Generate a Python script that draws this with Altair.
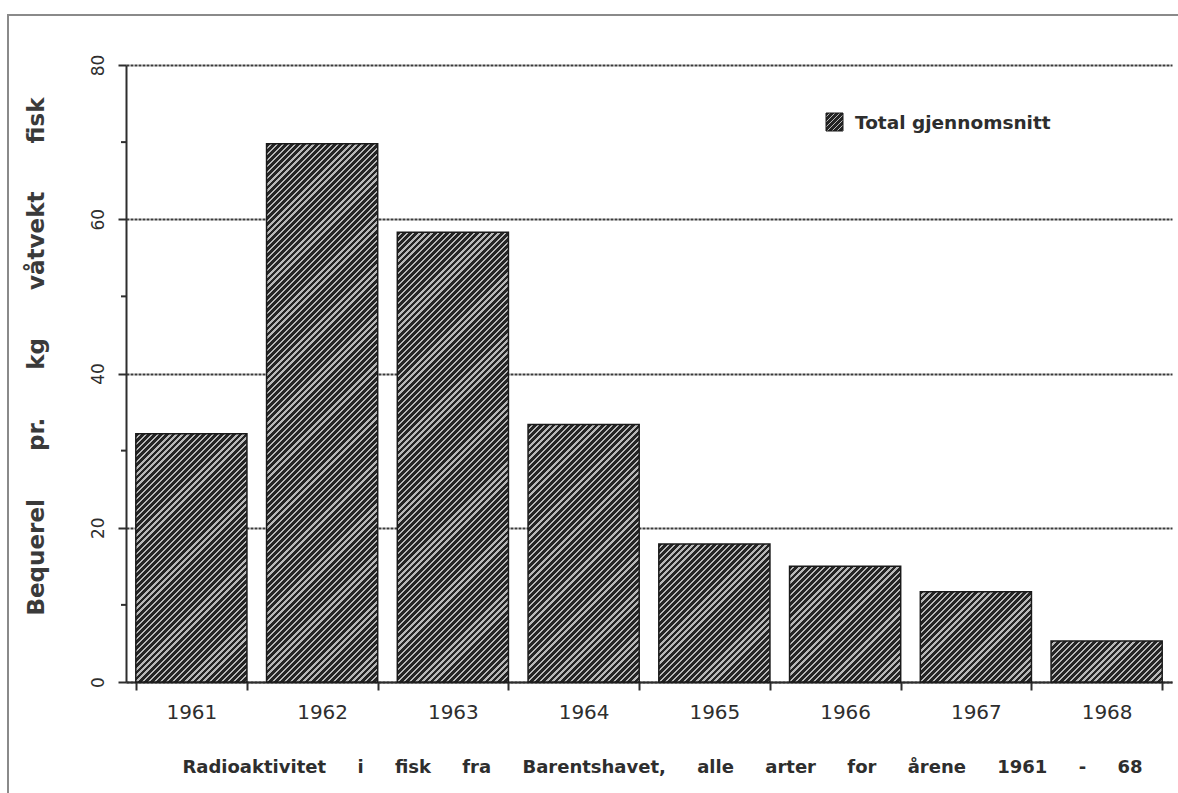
import altair as alt
import pandas as pd

# Mean radioactivity per year (Bq per kg wet weight)
years = ["1961", "1962", "1963", "1964", "1965", "1966", "1967", "1968"]
values = [32.2, 69.8, 58.3, 33.4, 17.9, 15.0, 11.7, 5.3]
y_ticks = [0, 20, 40, 60, 80]
minor_ticks = [10, 30, 50, 70]
legend_label = ["Total gjennomsnitt"]

NB = "\u00a0"
y_title = (NB * 6).join(["Bequerel", "pr.", "kg", "våtvekt", "fisk"])
x_title = (NB * 5).join(
    ["Radioaktivitet", "i", "fisk", "fra", "Barentshavet,", "alle", "arter",
     "for", "årene", "1961", "-", "68"]
)

W, H = 1046, 617
Y_MAX = 80
PAD_INNER = 0.15
STEP = W / len(years)
BAR_W = STEP * (1 - PAD_INNER)
INK = "#2e2e2e"
FONT = "DejaVu Sans"


def hatch(w, h, period=6.1, dark_frac=0.62, dark="#252525", light="#b8b8b8"):
    """Diagonal '/' hatching as a striped linear gradient for a w x h box."""
    n = max(1, round((w + h) / period))
    stops = []
    for j in range(n):
        a, b, c = j / n, (j + dark_frac) / n, (j + 1) / n
        stops += [
            {"offset": a, "color": dark},
            {"offset": b, "color": dark},
            {"offset": b, "color": light},
            {"offset": c, "color": light},
        ]
    k = (w + h) / (w * w + h * h)
    return {"gradient": "linear", "x1": 0, "y1": 0, "x2": k * w, "y2": k * h,
            "stops": stops}


df = pd.DataFrame({"year": years, "value": values})

x_scale = alt.Scale(paddingInner=PAD_INNER, paddingOuter=PAD_INNER / 2)
y_scale = alt.Scale(domain=[0, Y_MAX], nice=False)

x_axis = alt.Axis(
    title=x_title, labelAngle=0, labelFont=FONT, labelFontSize=20,
    labelColor=INK, labelPadding=12, tickBand="extent", tickSize=8,
    tickWidth=2, tickColor=INK, domainColor=INK, domainWidth=2,
    titleFont=FONT, titleFontSize=18, titleFontWeight="bold", titleColor=INK,
    titleX=536, titleY=90, titleAlign="center", titleBaseline="alphabetic",
)
y_axis = alt.Axis(
    values=y_ticks, title=y_title, titleFont=FONT, titleFontSize=23,
    titleFontWeight="bold", titleColor="#3a3a3a", titleAngle=-90,
    titleX=-83, titleY=291, titleAlign="center", titleBaseline="alphabetic",
    labelAngle=-90, labelAlign="center", labelBaseline="bottom",
    labelFont=FONT, labelFontSize=17, labelColor=INK, labelPadding=11,
    tickSize=8, tickWidth=2, tickColor=INK, domainColor=INK, domainWidth=2,
    grid=True, gridColor="#3a3a3a", gridWidth=2, gridDash=[3, 1],
)

# one hatch gradient per bar so that stripes keep a 45 degree slant
fill_conditions = [
    {"test": f"datum.year === '{yr}'", "value": hatch(BAR_W, v * H / Y_MAX)}
    for yr, v in zip(years, values)
]
bar_fill = alt.value(hatch(BAR_W, H / 2), condition=fill_conditions)

bars = alt.Chart(df).mark_bar(stroke="#1a1a1a", strokeWidth=1.5).encode(
    x=alt.X("year:N", scale=x_scale, axis=x_axis, sort=years),
    y=alt.Y("value:Q", scale=y_scale, axis=y_axis),
    fill=bar_fill,
)

minor = alt.Chart(pd.DataFrame({"value": minor_ticks})).mark_rule(
    color=INK, strokeWidth=2
).encode(
    y=alt.Y("value:Q", scale=y_scale, axis=y_axis),
    x=alt.value(-5), x2=alt.value(0),
)

# outer frame around the figure
frame = alt.Chart(pd.DataFrame({"k": [0]})).mark_rect(
    filled=False, stroke="#8a8a8a", strokeWidth=2
).encode(
    x=alt.value(-118), x2=alt.value(1070), y=alt.value(-50), y2=alt.value(760)
)

legend_df = pd.DataFrame({"label": legend_label})
swatch = alt.Chart(legend_df).mark_rect(
    fill=hatch(17, 18, period=5.0), stroke="#1a1a1a", strokeWidth=1
).encode(x=alt.value(700), x2=alt.value(717), y=alt.value(48), y2=alt.value(66))
legend_text = alt.Chart(legend_df).mark_text(
    align="left", baseline="middle", font=FONT, fontSize=18.5,
    fontWeight="bold", color=INK
).encode(x=alt.value(729), y=alt.value(58), text="label:N")

chart = (
    alt.layer(bars, minor, frame, swatch, legend_text)
    .properties(
        width=W, height=H,
        padding={"left": 126, "top": 65, "right": 6, "bottom": 111},
        autosize=alt.AutoSizeParams(type="none"),
        background="white",
    )
    .configure_view(strokeWidth=0)
)

chart.save("out.html", embed_options={"renderer": "svg", "actions": False})
